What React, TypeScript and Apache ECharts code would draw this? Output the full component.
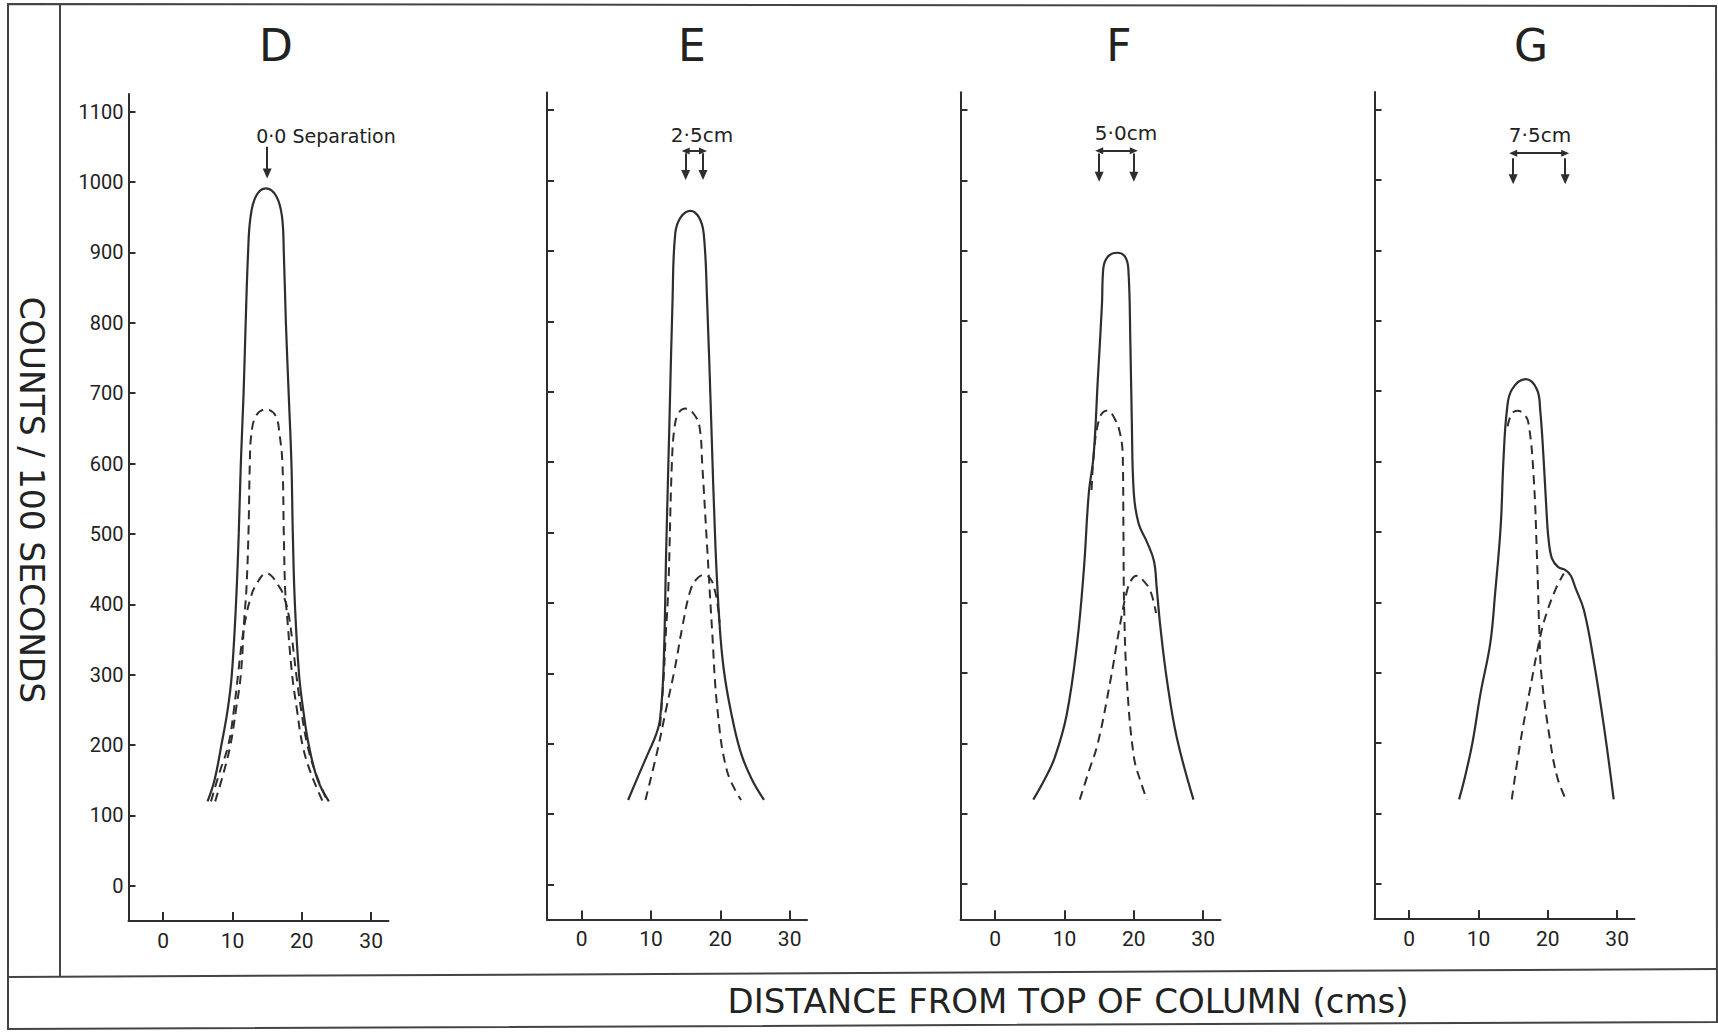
import React, { useEffect, useRef } from "react";
import * as echarts from "echarts";

// ---------- data ----------
const panelNames = ["D", "E", "F", "G"];
const separationLabels = ["0·0 Separation", "2·5cm", "5·0cm", "7·5cm"];
const xTicks = [0, 10, 20, 30];
const yTicks = [0, 100, 200, 300, 400, 500, 600, 700, 800, 900, 1000, 1100];

// Panel D (0.0 cm separation)
const dTotal = [[6.4,120],[7.4,150],[8.4,200],[9.3,250],[9.9,300],[10.5,400],[10.9,500],[11.2,600],[11.6,700],[11.9,800],[12.25,900],[12.6,950],[13.4,980],[14.8,991],[16.3,980],[17.15,950],[17.4,900],[17.7,800],[18.1,700],[18.5,600],[18.7,500],[19.0,400],[19.6,300],[20.2,250],[21.0,200],[22.3,150],[23.9,120]];
const dPeakA = [[7.5,120],[8.7,160],[9.7,200],[10.5,250],[11.2,300],[11.7,380],[12.0,420],[12.3,500],[12.5,600],[12.7,640],[13.4,668],[14.8,677],[16.2,668],[16.8,640],[17.2,600],[17.4,500],[17.6,420],[17.9,380],[18.6,300],[19.3,250],[20.1,200],[21.3,160],[23.0,120]];
const dPeakB = [[6.9,120],[8.1,160],[9.4,200],[10.2,250],[10.8,300],[11.4,350],[12.0,385],[12.5,405],[13.2,424],[14.9,444],[16.8,424],[17.6,405],[18.1,385],[18.6,350],[19.2,300],[19.9,250],[20.8,200],[22.0,160],[23.7,120]];

// Panel E (2.5 cm separation)
const eTotal = [[6.7,120],[8.2,155],[9.7,189],[10.7,212],[11.3,235],[11.8,305],[12.2,479],[12.65,653],[13.1,827],[13.5,925],[14.3,948],[15.7,957],[16.9,948],[17.6,925],[18.1,827],[18.7,653],[19.3,479],[19.9,368],[20.5,305],[21.5,247],[22.9,189],[24.5,150],[26.3,120]];
const ePeakA = [[11.3,225],[11.8,290],[12.1,350],[12.5,421],[13.0,595],[13.4,650],[14.0,670],[15.0,676],[16.2,668],[17.0,650],[17.4,595],[18.1,479],[18.8,363],[19.6,247],[21.0,160],[23.0,120]];
const ePeakB = [[9.2,120],[10.9,189],[12.2,250],[13.4,305],[14.6,370],[15.6,415],[16.5,433],[17.7,440],[18.6,434],[19.2,418],[19.6,398],[19.9,372]];

// Panel F (5.0 cm separation)
const fTotal = [[5.5,120],[7.2,150],[8.6,180],[10.3,240],[11.8,341],[12.8,448],[13.5,555],[14.2,609],[14.8,716],[15.4,823],[15.6,875],[16.3,892],[17.6,897],[18.7,892],[19.2,875],[19.5,769],[19.7,662],[20.0,555],[20.7,512],[21.9,486],[22.9,459],[23.3,421],[23.8,368],[24.8,288],[26.2,208],[28.6,120]];
const fPeakA = [[13.9,560],[14.3,620],[14.9,657],[15.5,670],[16.2,673],[17.2,662],[18.0,641],[18.4,609],[18.5,502],[18.6,395],[19.0,288],[20.0,181],[21.0,145],[21.9,120]];
const fPeakB = [[12.2,120],[13.5,160],[14.8,200],[16.6,288],[18.0,368],[19.0,416],[19.7,433],[20.4,438],[21.3,432],[22.4,416],[23.2,385]];

// Panel G (7.5 cm separation)
const gTotal = [[7.2,120],[8.0,150],[9.1,199],[10.3,271],[11.7,342],[12.4,413],[13.2,508],[13.6,602],[14.1,673],[14.8,702],[16.8,717],[18.45,702],[18.9,673],[19.4,602],[19.8,531],[20.1,490],[20.6,462],[21.5,450],[22.5,446],[23.3,438],[24.0,420],[25.2,389],[26.6,318],[28.1,223],[29.5,120]];
const gPeakA = [[14.2,650],[14.8,668],[15.65,672],[16.5,668],[17.2,655],[17.95,579],[18.45,460],[18.8,351],[19.1,294],[20.4,199],[21.4,150],[22.6,120]];
const gPeakB = [[14.8,120],[16.0,199],[17.5,280],[18.9,351],[19.8,384],[21.1,418],[22.3,441]];

// Separation markers (cm) and their vertical extents (counts)
const markerPositions = [[15], [15, 17.5], [15, 20], [15, 22.5]];
const markerTop = [1050, 1039, 1038, 1031];
const markerBottom = [1012, 1008, 1005, 1001];
const bracketLevel = [null, 1042, 1042, 1038];

const totals = [dTotal, eTotal, fTotal, gTotal];
const peaksA = [dPeakA, ePeakA, fPeakA, gPeakA];
const peaksB = [dPeakB, ePeakB, fPeakB, gPeakB];

// ---------- layout / style ----------
const gridLeft = [128.5, 547, 960.5, 1374.5];
const gridTop = [94, 92.6, 92.3, 92];
const gridWidth = 260;
const gridHeight = 827;
const titleX = [276, 692, 1119, 1531];
const noteX = [326, 702, 1126, 1540];
const noteY = [136, 135, 133, 135];
const INK = "#2e2e2e";
const FONT = "'DejaVu Sans', sans-serif";
const TICKFONT = "Roboto, 'DejaVu Sans', sans-serif";
const SMOOTH = 0.4;

function buildOption() {
  const grid = panelNames.map((_, i) => ({
    left: gridLeft[i], top: gridTop[i], width: gridWidth, height: gridHeight,
  }));
  const xAxis = panelNames.map((_, i) => ({
    type: "value", gridIndex: i, min: -5, max: 32.5,
    axisLine: { show: true, onZero: false, lineStyle: { color: INK, width: 2 } },
    axisTick: { show: true, inside: true, length: 9, customValues: xTicks, lineStyle: { color: INK, width: 2 } },
    axisLabel: { show: true, customValues: xTicks, margin: 9, fontSize: 21, color: "#222", fontFamily: TICKFONT, formatter: (v: number) => String(v) },
    splitLine: { show: false },
  }));
  const yAxis = panelNames.map((_, i) => ({
    type: "value", gridIndex: i, min: -50, max: 1125,
    axisLine: { show: true, onZero: false, lineStyle: { color: INK, width: 2 } },
    axisTick: { show: true, inside: true, length: 7, customValues: yTicks, lineStyle: { color: INK, width: 2 } },
    axisLabel: { show: i === 0, customValues: yTicks, margin: 5, fontSize: 20, color: "#222", fontFamily: TICKFONT, formatter: (v: number) => String(v) },
    splitLine: { show: false },
  }));

  const series: any[] = [];
  panelNames.forEach((name, i) => {
    const marks: any[] = [];
    const pos = markerPositions[i];
    pos.forEach((p) => {
      marks.push([
        { coord: [p, markerTop[i]], symbol: "none" },
        { coord: [p, markerBottom[i]], symbol: "triangle", symbolSize: [9, 10] },
      ]);
    });
    if (bracketLevel[i] !== null && pos.length === 2) {
      marks.push([
        { coord: [pos[0], bracketLevel[i]], symbol: "triangle", symbolSize: [7, 8] },
        { coord: [pos[1], bracketLevel[i]], symbol: "triangle", symbolSize: [7, 8] },
      ]);
    }
    series.push({
      name: name + " total", type: "line", xAxisIndex: i, yAxisIndex: i,
      data: totals[i], showSymbol: false, smooth: SMOOTH,
      lineStyle: { color: INK, width: 2.2, type: "solid" },
      markLine: {
        silent: true, animation: false, label: { show: false },
        lineStyle: { color: INK, width: 2, type: "solid" },
        data: marks,
      },
    });
    series.push({
      name: name + " peak 1", type: "line", xAxisIndex: i, yAxisIndex: i,
      data: peaksA[i], showSymbol: false, smooth: SMOOTH,
      lineStyle: { color: INK, width: 2, type: [9, 6] },
    });
    series.push({
      name: name + " peak 2", type: "line", xAxisIndex: i, yAxisIndex: i,
      data: peaksB[i], showSymbol: false, smooth: SMOOTH,
      lineStyle: { color: INK, width: 2, type: [9, 6] },
    });
  });

  const graphic: any[] = [
    // frame
    { type: "polygon", shape: { points: [[8, 4], [1716, 6], [1717, 1022], [8, 1029]] }, style: { fill: "none", stroke: "#444", lineWidth: 2 }, silent: true },
    { type: "line", shape: { x1: 8, y1: 977, x2: 1717, y2: 969 }, style: { stroke: "#444", lineWidth: 2 }, silent: true },
    { type: "line", shape: { x1: 60, y1: 4, x2: 60, y2: 977 }, style: { stroke: "#444", lineWidth: 2 }, silent: true },
    // axis names
    { type: "text", x: 31, y: 500, rotation: -Math.PI / 2, style: { text: "COUNTS / 100 SECONDS", font: `33px ${FONT}`, fill: "#222", textAlign: "center", textVerticalAlign: "middle" }, silent: true },
    { type: "text", x: 1068, y: 1001, style: { text: "DISTANCE FROM TOP OF COLUMN (cms)", font: `34px ${FONT}`, fill: "#222", textAlign: "center", textVerticalAlign: "middle" }, silent: true },
  ];
  panelNames.forEach((name, i) => {
    graphic.push({ type: "text", x: titleX[i], y: 45, style: { text: name, font: `44px ${FONT}`, fill: "#222", textAlign: "center", textVerticalAlign: "middle" }, silent: true });
    graphic.push({ type: "text", x: noteX[i], y: noteY[i], style: { text: separationLabels[i], font: `${i === 0 ? 19 : 20}px ${FONT}`, fill: "#222", textAlign: "center", textVerticalAlign: "middle" }, silent: true });
  });

  return { animation: false, backgroundColor: "#ffffff", grid, xAxis, yAxis, series, graphic };
}

export default function App() {
  const ref = useRef<HTMLDivElement>(null);
  useEffect(() => {
    if (!ref.current) return;
    const chart = echarts.init(ref.current, undefined, { renderer: "svg" });
    chart.setOption(buildOption() as any);
    return () => chart.dispose();
  }, []);
  return (
    <div
      ref={ref}
      style={{ position: "absolute", left: 0, top: 0, width: 1718, height: 1034, background: "#fff" }}
    />
  );
}
